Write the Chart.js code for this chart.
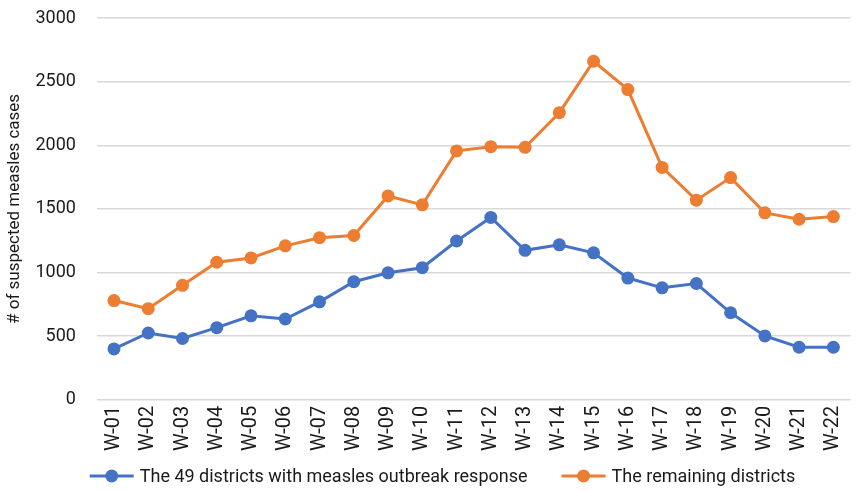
<!DOCTYPE html>
<html>
<head>
<meta charset="utf-8">
<script src="https://cdn.jsdelivr.net/npm/chart.js@4.4.0/dist/chart.umd.min.js"></script>
<style>
    html, body { margin: 0; padding: 0; background: #fff; }
    #wrap { width: 857px; height: 490px; }
</style>
</head>
<body>
<div id="wrap"><canvas id="myChart" width="857" height="490"></canvas></div>
<script>
const weeks = ['W-01', 'W-02', 'W-03', 'W-04', 'W-05', 'W-06', 'W-07', 'W-08', 'W-09', 'W-10', 'W-11',
    'W-12', 'W-13', 'W-14', 'W-15', 'W-16', 'W-17', 'W-18', 'W-19', 'W-20', 'W-21', 'W-22'];
const outbreakDistricts = [400, 525, 482, 567, 660, 635, 770, 928, 998, 1038, 1248,
    1433, 1175, 1218, 1155, 957, 880, 914, 684, 502, 413, 413];
const remainingDistricts = [780, 716, 900, 1081, 1115, 1210, 1274, 1291, 1602, 1532, 1956,
    1989, 1984, 2256, 2660, 2438, 1826, 1569, 1746, 1469, 1419, 1440];
const yTicks = [0, 500, 1000, 1500, 2000, 2500, 3000];

const fontFamily = "Roboto, sans-serif";
const textColor = '#1a1a1a';
const blue = '#4472C4';
const orange = '#ED7D31';

// bottom legend: line with a dot, then the label, like the original
const lineLegend = {
    id: 'lineLegend',
    afterDraw(chart) {
        const c = chart.ctx;
        const sets = chart.data.datasets;
        const markW = 44, textGap = 6, itemGap = 34;
        c.save();
        c.font = '18px ' + fontFamily;
        const widths = sets.map(ds => c.measureText(ds.label).width);
        let total = 0;
        widths.forEach((w, i) => { total += markW + textGap + w + (i ? itemGap : 0); });
        let x = chart.width / 2 + 14 - total / 2;
        const y = chart.height - 14;
        sets.forEach((ds, i) => {
            c.strokeStyle = ds.borderColor;
            c.fillStyle = ds.borderColor;
            c.lineWidth = 3;
            c.beginPath();
            c.moveTo(x, y);
            c.lineTo(x + markW, y);
            c.stroke();
            c.beginPath();
            c.arc(x + markW / 2, y, 6.5, 0, Math.PI * 2);
            c.fill();
            c.fillStyle = textColor;
            c.textBaseline = 'middle';
            c.textAlign = 'left';
            c.fillText(ds.label, x + markW + textGap, y + 1);
            x += markW + textGap + widths[i] + itemGap;
        });
        c.restore();
    }
};

const ctx = document.getElementById('myChart');

new Chart(ctx, {
    type: 'line',
    data: {
        labels: weeks,
        datasets: [{
            label: 'The 49 districts with measles outbreak response',
            data: outbreakDistricts,
            borderColor: blue,
            backgroundColor: blue,
            borderWidth: 3,
            pointRadius: 6.5,
            pointHoverRadius: 6.5,
            pointBorderWidth: 0,
            tension: 0
        }, {
            label: 'The remaining districts',
            data: remainingDistricts,
            borderColor: orange,
            backgroundColor: orange,
            borderWidth: 3,
            pointRadius: 6.5,
            pointHoverRadius: 6.5,
            pointBorderWidth: 0,
            tension: 0
        }]
    },
    plugins: [lineLegend],
    options: {
        responsive: false,
        animation: false,
        layout: { padding: { top: 18, right: 0, left: 5, bottom: 39 } },
        plugins: {
            tooltip: { enabled: false },
            legend: { display: false }
        },
        scales: {
            x: {
                offset: true,
                grid: {
                    display: true,
                    drawOnChartArea: false,
                    drawTicks: true,
                    tickLength: 6,
                    color: 'rgba(0,0,0,0)',
                    tickColor: 'rgba(0,0,0,0)'
                },
                border: { display: false },
                ticks: {
                    color: textColor,
                    minRotation: 90,
                    maxRotation: 90,
                    autoSkip: false,
                    padding: 0,
                    font: { size: 20, family: fontFamily, lineHeight: 1 }
                }
            },
            y: {
                min: 0,
                max: 3000,
                afterBuildTicks(axis) {
                    axis.ticks = yTicks.map(v => ({ value: v }));
                },
                grid: {
                    color: '#d9d9d9',
                    lineWidth: 1.5,
                    drawTicks: true,
                    tickLength: 21,
                    tickColor: 'rgba(0,0,0,0)'
                },
                border: { display: false },
                title: {
                    display: true,
                    text: '# of suspected measles cases',
                    color: textColor,
                    padding: { top: 0, bottom: 10 },
                    font: { size: 17, family: fontFamily }
                },
                ticks: {
                    color: textColor,
                    padding: 0,
                    font: { size: 18, family: fontFamily },
                    callback: v => String(v)
                }
            }
        }
    }
});
</script>
</body>
</html>
